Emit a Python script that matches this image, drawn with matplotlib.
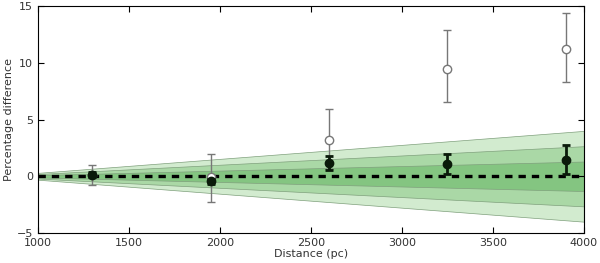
import numpy as np
import matplotlib
matplotlib.use("Agg")
import matplotlib.pyplot as plt

# distances of the clusters (pc)
dist = [1300, 1950, 2600, 3250, 3900]

# filled points: percentage difference with small errors
filled_y = [0.15, -0.44, 1.17, 1.06, 1.44]
filled_lo = [0.2, 0.2, 0.65, 0.9, 1.2]
filled_hi = [0.2, 0.2, 0.62, 0.9, 1.32]

# open points: larger errors
open_y = [0.1, -0.1, 3.23, 9.43, 11.19]
open_lo = [0.83, 2.13, 2.6, 2.88, 2.85]
open_hi = [0.87, 2.1, 2.67, 3.43, 3.21]

# band half-widths at the two ends of the range
band_d = [1000, 4000]
band_1 = [0.1, 1.3]
band_2 = [0.2, 2.65]
band_3 = [0.3, 4.0]
band_colors = ["#d2ebcf", "#aad8a6", "#84c581"]

fig, ax = plt.subplots(figsize=(6.0, 2.63), dpi=100)
plt.subplots_adjust(left=0.063, right=0.973, bottom=0.114, top=0.977)

bd = np.array(band_d)
for hw, c in zip([band_3, band_2, band_1], band_colors):
    hw = np.array(hw)
    ax.fill_between(bd, -hw, hw, facecolor=c, edgecolor="#7fa07c", linewidth=0.5, zorder=1)

ax.axhline(0, color="black", linestyle=(0, (2.2, 1.8)), linewidth=2.4, zorder=2)

ax.errorbar(dist, open_y, yerr=[open_lo, open_hi], fmt="o", mfc="white", mec="#777777",
            ecolor="#777777", ms=6, elinewidth=1.0, capsize=3, capthick=1.0, zorder=3)
ax.errorbar(dist, filled_y, yerr=[filled_lo, filled_hi], fmt="o", color="#0a1a0a",
            ms=6, elinewidth=2.0, capsize=3, capthick=2.0, zorder=4)

ax.set_xlim(1000, 4000)
ax.set_ylim(-5, 15)
ax.set_xticks(np.arange(1000, 4001, 500))
ax.set_yticks([-5, 0, 5, 10, 15])
ax.tick_params(direction="in", top=True, right=True, labelsize=8, colors="black",
               labelcolor="#333333", length=4)
ax.set_xlabel("Distance (pc)", fontsize=8, labelpad=1, color="#333333")
ax.set_ylabel("Percentage difference", fontsize=8, labelpad=2, color="#333333")

plt.savefig("out.png", dpi=100)
